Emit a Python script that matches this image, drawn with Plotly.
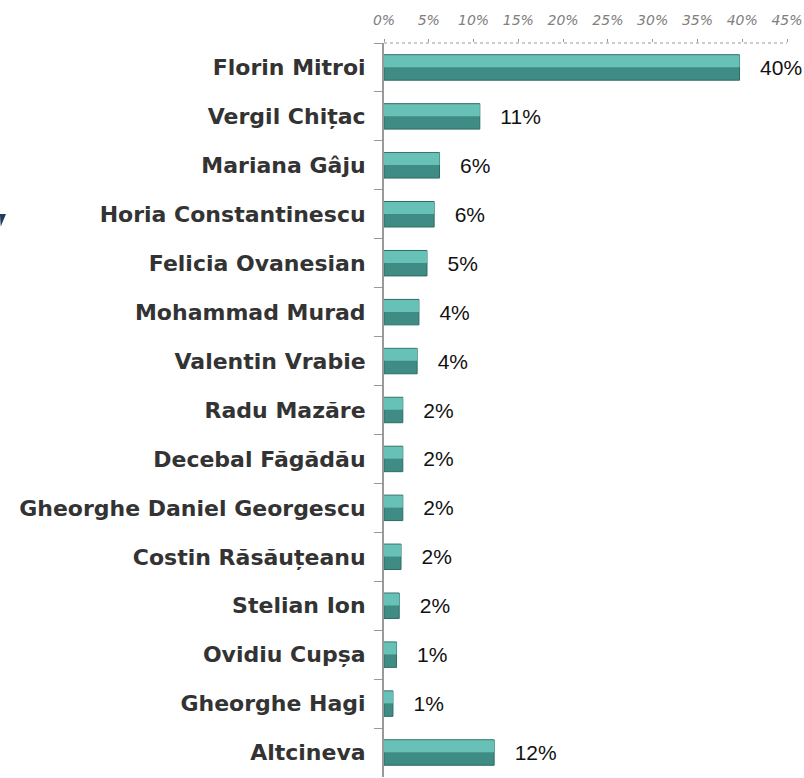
import plotly.graph_objects as go

names = ["Florin Mitroi", "Vergil Chițac", "Mariana Gâju", "Horia Constantinescu",
         "Felicia Ovanesian", "Mohammad Murad", "Valentin Vrabie", "Radu Mazăre",
         "Decebal Făgădău", "Gheorghe Daniel Georgescu", "Costin Răsăuțeanu",
         "Stelian Ion", "Ovidiu Cupșa", "Gheorghe Hagi", "Altcineva"]
values = [39.7, 10.7, 6.2, 5.6, 4.8, 3.9, 3.7, 2.1, 2.1, 2.1, 1.9, 1.7, 1.4, 1.0, 12.3]
tick_vals = [0, 5, 10, 15, 20, 25, 30, 35, 40, 45]
tick_text = [f"{v}%" for v in tick_vals]
labels = [f"{round(v)}%" for v in values]

fig = go.Figure()
# base (darker) bar
fig.add_trace(go.Bar(
    y=names, x=values, orientation="h", width=0.52,
    marker=dict(color="#3f8c84", line=dict(color="#2e6b65", width=1)),
    text=labels, texttemplate="\u00a0\u00a0\u00a0%{text}", textposition="outside",
    cliponaxis=False, constraintext="none",
    textfont=dict(family="Liberation Sans", size=21, color="#111111"),
    hoverinfo="skip", showlegend=False,
))
# lighter top face for a bevel look
fig.add_trace(go.Bar(
    y=names, x=values, orientation="h", width=0.245, offset=-0.25,
    marker=dict(color="#68c1b7", line=dict(width=0)),
    hoverinfo="skip", showlegend=False,
))

fig.update_layout(
    width=804, height=778,
    margin=dict(l=384, r=17, t=43, b=1),
    barmode="overlay",
    plot_bgcolor="white", paper_bgcolor="white",
    xaxis=dict(side="top", range=[0, 45], tickvals=tick_vals, ticktext=tick_text,
               tickfont=dict(family="DejaVu Sans", size=14, color="#808080", style="italic"),
               showgrid=False, zeroline=False, showline=False, automargin=False,
               ticks="outside", ticklen=3, tickcolor="#999999", ticklabelstandoff=8),
    yaxis=dict(autorange="reversed", tickson="boundaries", ticks="outside", ticklen=8,
               tickcolor="#999999", showline=True, linecolor="#999999", linewidth=2,
               showgrid=False, automargin=False, ticklabelstandoff=12,
               tickfont=dict(family="DejaVu Sans", size=22, color="#333333", weight="bold")),
    shapes=[
        dict(type="line", xref="paper", yref="paper", x0=0, x1=1, y0=1, y1=1,
             line=dict(color="#999999", width=1, dash="dot")),
        dict(type="path", xref="paper", yref="paper",
             path="M -0.953 0.767 L -0.938 0.767 L -0.951 0.750 Z",
             fillcolor="#1f3a5a", line=dict(width=0)),
    ],
)

fig.write_html("out.html", config={"displayModeBar": False},
               post_script="document.body.style.margin='0';")
